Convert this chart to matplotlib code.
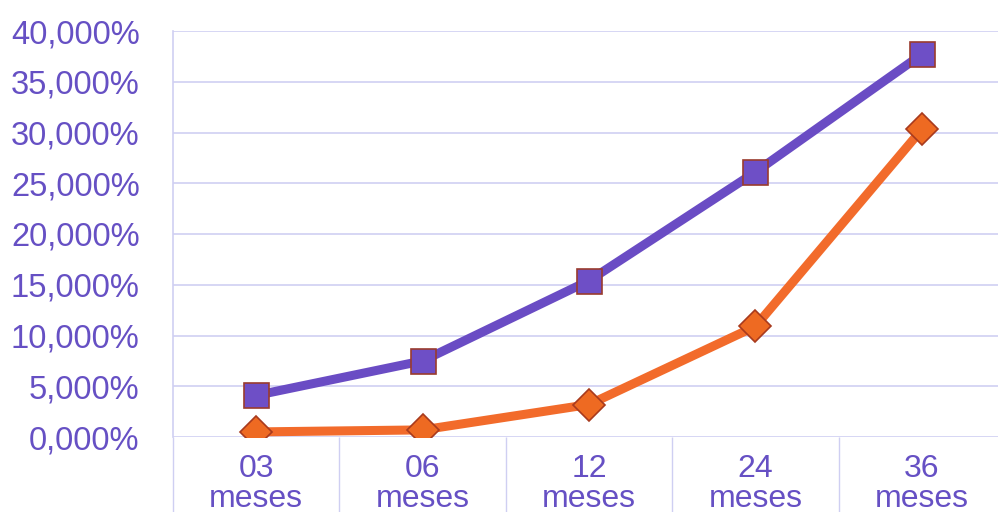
import matplotlib
matplotlib.use("Agg")
import matplotlib.pyplot as plt
from matplotlib.ticker import FuncFormatter, FixedLocator

categories = ["03\nmeses", "06\nmeses", "12\nmeses", "24\nmeses", "36\nmeses"]
serie_roxa = [4.1, 7.5, 15.4, 26.1, 37.7]
serie_laranja = [0.5, 0.7, 3.2, 10.9, 30.3]
y_ticks = [0, 5, 10, 15, 20, 25, 30, 35, 40]

text_color = "#6650c4"
grid_color = "#cfcff2"
purple = "#6a4cc4"
orange = "#f26b2b"

plt.rcParams['font.family'] = ['Liberation Sans', 'DejaVu Sans']

fig = plt.figure(figsize=(9.98, 5.12), dpi=100)
ax = fig.add_axes([173/998, 75/512, 832/998, 406/512])

x = list(range(len(categories)))
ax.plot(x, serie_roxa, color=purple, lw=6.5, marker='s', markersize=18,
        markerfacecolor="#6e4fc6", markeredgecolor="#9a3b2e", markeredgewidth=1.2,
        solid_capstyle='round', zorder=3)
ax.plot(x, serie_laranja, color=orange, lw=6.5, marker='D', markersize=16,
        markerfacecolor="#ee6a22", markeredgecolor="#a83a1e", markeredgewidth=1.2,
        solid_capstyle='round', zorder=3)

ax.set_xlim(-0.5, len(categories) - 0.5)
ax.set_ylim(0, 40)
ax.yaxis.set_major_locator(FixedLocator(y_ticks))
ax.yaxis.set_major_formatter(FuncFormatter(lambda v, p: f"{v:.3f}".replace('.', ',') + "%"))
ax.set_xticks(x)
ax.set_xticklabels(categories, linespacing=1.0)
ax.set_xticks([i - 0.5 for i in range(len(categories) + 1)], minor=True)

ax.grid(axis='y', color=grid_color, lw=1.2)
ax.set_axisbelow(True)
for s in ['top', 'right', 'bottom']:
    ax.spines[s].set_visible(False)
ax.spines['left'].set_color(grid_color)
ax.spines['left'].set_linewidth(1.2)

ax.tick_params(axis='y', length=0, pad=24, labelsize=23.5, labelcolor=text_color)
ax.tick_params(axis='x', which='major', length=0, pad=12, labelsize=23, labelcolor=text_color)
ax.tick_params(axis='x', which='minor', length=60, width=1.0, color=grid_color, direction='out')

fig.savefig("out.png", dpi=100, facecolor='white')
